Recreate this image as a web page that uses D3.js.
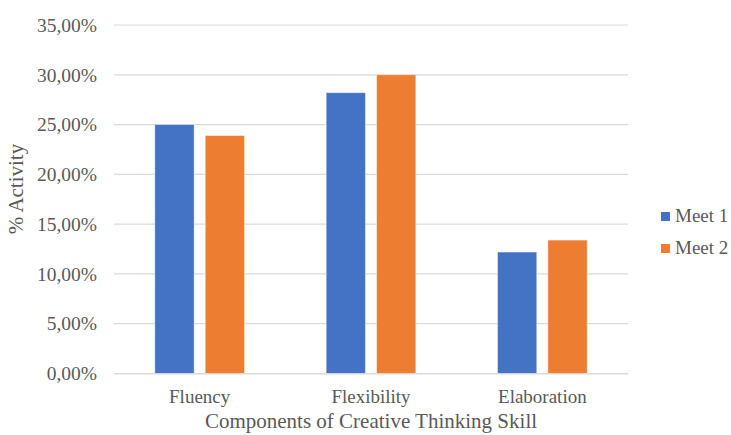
<!DOCTYPE html>
<html>
<head>
<meta charset="utf-8">
<script src="https://cdn.jsdelivr.net/npm/d3@7"></script>
<style>
  html, body { margin: 0; padding: 0; background: #fff; }
  svg text { font-family: "Liberation Serif", "Times New Roman", serif; fill: #595959; }
</style>
</head>
<body>
<svg id="chart" width="731" height="435"></svg>
<script>
// Categories and series
const categories = ["Fluency", "Flexibility", "Elaboration"];
const seriesNames = ["Meet 1", "Meet 2"];
const meet1 = [25.0, 28.2, 12.2];
const meet2 = [23.9, 30.0, 13.4];
const yTicks = [0, 5, 10, 15, 20, 25, 30, 35];
const colors = ["#4472C4", "#ED7D31"];

const svg = d3.select("#chart");
const margin = { left: 114, right: 103, top: 25, bottom: 61.5 };
const width = 731, height = 435;

const x = d3.scaleBand()
  .domain(categories)
  .range([margin.left, width - margin.right])
  .paddingInner(0)
  .paddingOuter(0);

const x1 = d3.scaleBand()
  .domain(seriesNames)
  .range([0, x.bandwidth()])
  .paddingInner(0.22)
  .paddingOuter(0.81);

const y = d3.scaleLinear()
  .domain([0, 35])
  .range([height - margin.bottom, margin.top]);

const fmt = v => d3.format(".2f")(v).replace(".", ",") + "%";

// Horizontal gridlines
svg.append("g")
  .selectAll("line")
  .data(yTicks)
  .join("line")
  .attr("x1", margin.left)
  .attr("x2", width - margin.right)
  .attr("y1", d => y(d))
  .attr("y2", d => y(d))
  .attr("stroke", "#d9d9d9")
  .attr("stroke-width", 1.2);

// Y axis labels
const yAxis = d3.axisLeft(y).tickValues(yTicks).tickFormat(fmt).tickSize(0).tickPadding(17);
const ya = svg.append("g").attr("transform", `translate(${margin.left},0)`).call(yAxis);
ya.select(".domain").remove();
ya.attr("font-family", null).attr("font-size", null);
ya.selectAll("text").attr("font-size", 19.5).attr("fill", "#595959");

// Bars
const data = categories.map((c, i) => ({ cat: c, vals: [meet1[i], meet2[i]] }));
const groups = svg.append("g")
  .selectAll("g")
  .data(data)
  .join("g")
  .attr("transform", d => `translate(${x(d.cat)},0)`);

groups.selectAll("rect")
  .data(d => d.vals.map((v, j) => ({ name: seriesNames[j], v, j })))
  .join("rect")
  .attr("x", d => x1(d.name))
  .attr("width", x1.bandwidth())
  .attr("y", d => y(d.v))
  .attr("height", d => y(0) - y(d.v))
  .attr("fill", d => colors[d.j])
  .attr("stroke", "#ffffff")
  .attr("stroke-opacity", 0.6)
  .attr("stroke-width", 0.75);

// X axis baseline + category labels
const xAxis = d3.axisBottom(x).tickSize(0).tickPadding(16);
const xa = svg.append("g").attr("transform", `translate(0,${y(0)})`).call(xAxis);
xa.attr("font-family", null).attr("font-size", null);
xa.select(".domain").attr("stroke", "#d9d9d9").attr("stroke-width", 1.2);
xa.selectAll("text").attr("font-size", 19).attr("fill", "#595959");

// Axis titles
svg.append("text")
  .attr("x", 371)
  .attr("y", 428)
  .attr("text-anchor", "middle")
  .attr("font-size", 21)
  .text("Components of Creative Thinking Skill");

svg.append("text")
  .attr("transform", `translate(23,189) rotate(-90)`)
  .attr("text-anchor", "middle")
  .attr("font-size", 21)
  .text("% Activity");

// Legend
const legend = svg.append("g")
  .selectAll("g")
  .data(seriesNames)
  .join("g")
  .attr("transform", (d, i) => `translate(661,${212 + i * 32})`);
legend.append("rect")
  .attr("width", 9).attr("height", 9)
  .attr("fill", (d, i) => colors[i]);
legend.append("text")
  .attr("x", 14).attr("y", 9.8)
  .attr("font-size", 19)
  .text(d => d);
</script>
</body>
</html>
